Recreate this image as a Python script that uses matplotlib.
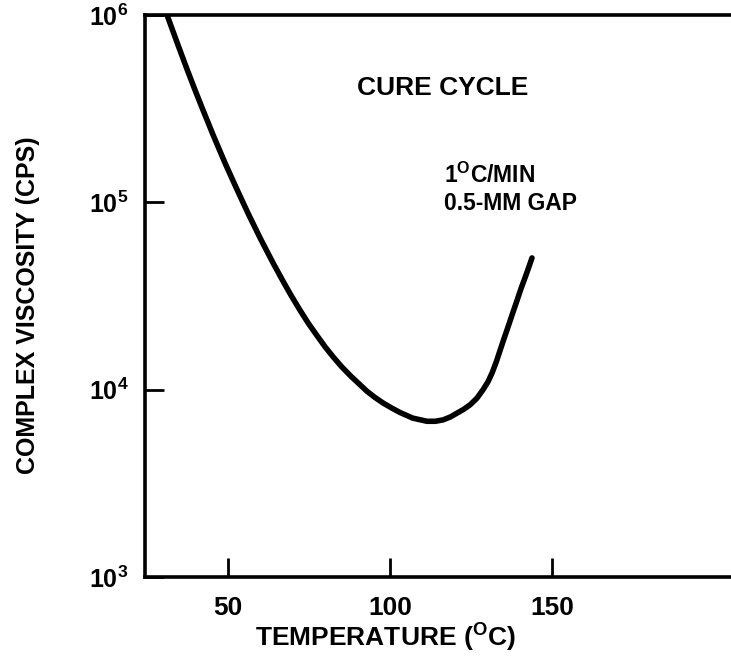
import numpy as np
import matplotlib
matplotlib.use('Agg')
import matplotlib.pyplot as plt

plt.rcParams['font.family'] = ['Liberation Sans', 'DejaVu Sans']
plt.rcParams['mathtext.fontset'] = 'custom'
plt.rcParams['mathtext.rm'] = 'Liberation Sans:bold'
plt.rcParams['mathtext.bf'] = 'Liberation Sans:bold'

# Cure cycle
temperature = [31.2, 34.6, 37.5, 40.0, 42.0, 45.5, 49.1, 52.5, 56.2,
               60.0, 63.9, 67.0, 69.5, 72.2, 74.8, 77.5, 80.0, 82.4, 85.0,
               87.7, 90.3, 92.9, 95.3, 97.8, 100.4, 103.1, 107.0, 111.4,
               114.0, 116.4, 118.6, 120.7, 122.7, 124.7, 126.8, 128.7, 130.2,
               131.5, 132.8, 134.0, 135.2, 136.4, 137.8, 139.2, 140.5, 141.7,
               142.8, 143.8]
viscosity = [1.0e6, 6.9e5, 5.06e5, 3.91e5, 3.2e5, 2.27e5, 1.62e5,
             1.2e5, 8.73e4, 6.41e4, 4.75e4, 3.79e4, 3.18e4, 2.66e4, 2.26e4,
             1.94e4, 1.69e4, 1.5e4, 1.33e4, 1.19e4, 1.08e4, 9.8e3, 9.1e3,
             8.5e3, 8.0e3, 7.55e3, 7.05e3, 6.78e3, 6.78e3, 6.9e3, 7.15e3,
             7.5e3, 7.85e3, 8.3e3, 9.0e3, 1.0e4, 1.1e4, 1.23e4, 1.41e4,
             1.63e4, 1.88e4, 2.16e4, 2.55e4, 3.0e4, 3.5e4, 3.98e4, 4.5e4,
             5.05e4]

x_ticks = [50, 100, 150]
y_ticks = [1e3, 1e4, 1e5, 1e6]
y_tick_labels = [r'$\mathbf{10^{3}}$', r'$\mathbf{10^{4}}$',
                 r'$\mathbf{10^{5}}$', r'$\mathbf{10^{6}}$']

W, H = 731, 665
fig = plt.figure(figsize=(W / 100, H / 100), dpi=100)
ax = fig.add_axes([145 / W, 88 / H, 586 / W, 562 / H])

ax.plot(temperature, viscosity, color='black', lw=4,
        solid_capstyle='round', solid_joinstyle='round')

ax.set_yscale('log')
ax.set_xlim(24.4, 205.2)
ax.set_ylim(1e3, 1e6)
ax.set_xticks(x_ticks)
ax.set_yticks(y_ticks)
ax.set_yticklabels(y_tick_labels)
ax.yaxis.set_minor_locator(matplotlib.ticker.NullLocator())
for lab in ax.get_xticklabels():
    lab.set_fontweight('bold')

ax.tick_params(direction='in', length=14, width=2)
ax.tick_params(axis='x', pad=14, labelsize=19)
ax.tick_params(axis='y', pad=12, labelsize=18)

for s in ['left', 'bottom', 'top']:
    ax.spines[s].set_linewidth(2.6)
ax.spines['right'].set_visible(False)

ax.set_xlabel(r'TEMPERATURE ($^{\mathbf{O}}$C)', fontsize=19, fontweight='bold')
ax.xaxis.set_label_coords((385 - 145) / 586, -(620 - 577) / 562)
ax.set_ylabel('COMPLEX VISCOSITY (CPS)', fontsize=18, fontweight='bold')
ax.yaxis.set_label_coords(-(145 - 40) / 586, (577 - 305) / 562)

fig.text(357 / W, 1 - 88 / H, 'CURE CYCLE', fontsize=19, fontweight='bold',
         va='center', ha='left')
fig.text(444 / W, 1 - 175 / H, r'1$^{\mathbf{O}}$C/MIN', fontsize=16.5,
         fontweight='bold', va='center', ha='left')
fig.text(444 / W, 1 - 203 / H, '0.5-MM GAP', fontsize=16.5,
         fontweight='bold', va='center', ha='left')

fig.savefig('out.png', dpi=100)
